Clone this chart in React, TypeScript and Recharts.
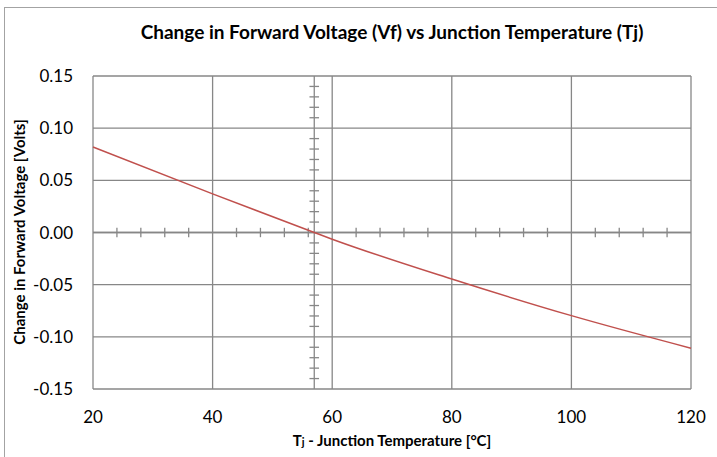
import React from 'react';
import {
    CartesianGrid,
    Line,
    LineChart,
    ReferenceLine,
    XAxis,
    YAxis,
} from 'recharts';

const junctionTemps = [20, 40, 57, 60, 80, 100, 120];
const vfChange = [0.082, 0.037, 0, -0.0064, -0.0446, -0.0797, -0.1109];
const tempTicks = [20, 40, 60, 80, 100, 120];
const voltTicks = [-0.15, -0.1, -0.05, 0, 0.05, 0.1, 0.15];
const tempMinorTicks = [
    24, 28, 32, 36, 44, 48, 52, 56, 64, 68, 72, 76, 84, 88, 92, 96, 104, 108,
    112, 116,
];
const voltMinorTicks = [
    -0.14, -0.13, -0.12, -0.11, -0.09, -0.08, -0.07, -0.06, -0.04, -0.03,
    -0.02, -0.01, 0.01, 0.02, 0.03, 0.04, 0.06, 0.07, 0.08, 0.09, 0.11, 0.12,
    0.13, 0.14,
];
const crossTemp = 57;

const chartData = junctionTemps.map((t, i) => ({t, vf: vfChange[i]}));

const GRID = '#878787';
const FONT = 'Lato, "Open Sans", sans-serif';

const App: React.FC = () => {
    return (
        <div
            style={{
                position: 'absolute',
                left: 0,
                top: 0,
                width: 717,
                height: 457,
                overflow: 'hidden',
                background: '#fff',
                fontFamily: FONT,
            }}
        >
            <div
                style={{
                    position: 'absolute',
                    left: 4,
                    top: 7,
                    width: 740,
                    height: 480,
                    border: '1px solid #a3a3a3',
                }}
            />
            <div
                style={{
                    position: 'absolute',
                    left: 93,
                    width: 598,
                    top: 19,
                    textAlign: 'center',
                    fontWeight: 'bold',
                    fontSize: 19,
                    lineHeight: '26px',
                }}
            >
                Change in Forward Voltage (Vf) vs Junction Temperature (Tj)
            </div>
            <div
                style={{
                    position: 'absolute',
                    left: 93,
                    width: 598,
                    top: 430,
                    textAlign: 'center',
                    fontWeight: 'bold',
                    fontSize: 15,
                    lineHeight: '20px',
                }}
            >
                T<span style={{fontSize: 11}}>j</span> - Junction Temperature [°C]
            </div>
            <div
                style={{
                    position: 'absolute',
                    left: 19 - 150,
                    top: 232 - 10,
                    width: 300,
                    textAlign: 'center',
                    fontWeight: 'bold',
                    fontSize: 15,
                    lineHeight: '20px',
                    transform: 'rotate(-90deg)',
                }}
            >
                Change in Forward Voltage [Volts]
            </div>
            <LineChart
                width={717}
                height={457}
                data={chartData}
                margin={{top: 76, right: 26, bottom: 0, left: 0}}
                style={{position: 'absolute', left: 0, top: 0}}
            >
                <CartesianGrid stroke={GRID} strokeWidth={1.3} />
                <XAxis
                    type='number'
                    dataKey='t'
                    domain={[20, 120]}
                    ticks={tempTicks}
                    axisLine={false}
                    tickLine={false}
                    height={68}
                    tickMargin={16}
                    tick={{fill: '#000', fontSize: 17, fontFamily: FONT}}
                />
                <YAxis
                    type='number'
                    domain={[-0.15, 0.15]}
                    ticks={voltTicks}
                    axisLine={false}
                    tickLine={false}
                    width={93}
                    tickMargin={14}
                    tickFormatter={(v: number) => v.toFixed(2)}
                    tick={{fill: '#000', fontSize: 17, fontFamily: FONT}}
                />
                <ReferenceLine y={0} stroke={GRID} strokeWidth={1.3} />
                <ReferenceLine x={crossTemp} stroke={GRID} strokeWidth={1.3} />
                {tempMinorTicks.map((t) => (
                    <ReferenceLine
                        key={`tx-${t}`}
                        segment={[
                            {x: t, y: -0.0045},
                            {x: t, y: 0.0045},
                        ]}
                        stroke={GRID}
                        strokeWidth={1.3}
                    />
                ))}
                {voltMinorTicks.map((v) => (
                    <ReferenceLine
                        key={`ty-${v}`}
                        segment={[
                            {x: crossTemp - 0.8, y: v},
                            {x: crossTemp + 0.8, y: v},
                        ]}
                        stroke={GRID}
                        strokeWidth={1.3}
                    />
                ))}
                <Line
                    type='monotone'
                    dataKey='vf'
                    stroke='#C0504D'
                    strokeWidth={1.5}
                    dot={false}
                    isAnimationActive={false}
                />
            </LineChart>
        </div>
    );
};

export default App;
